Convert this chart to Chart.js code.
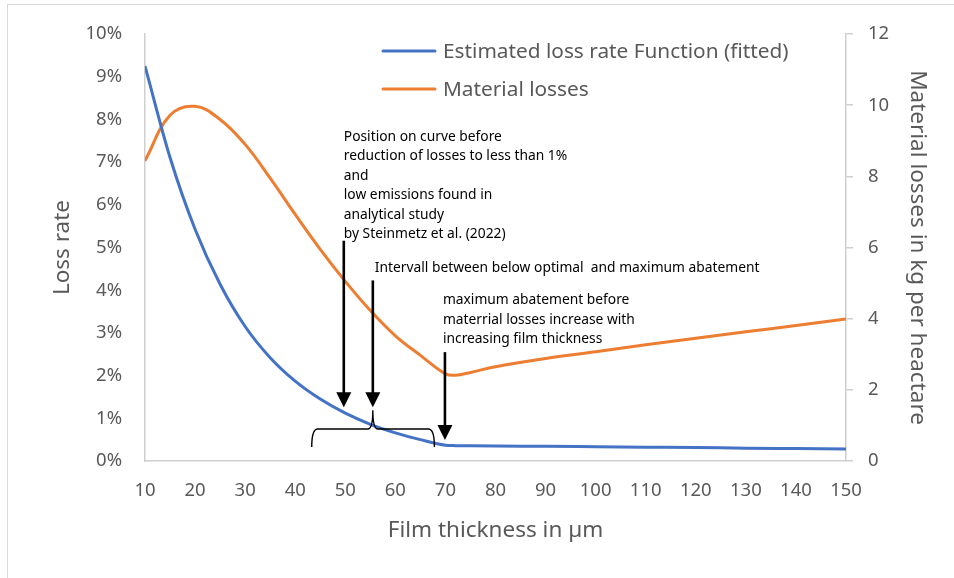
<!DOCTYPE html>
<html><head><meta charset="utf-8">
<script src="https://cdn.jsdelivr.net/npm/chart.js@4.4.0/dist/chart.umd.min.js"></script>
<style>
html,body{margin:0;padding:0;background:#fff;overflow:hidden;}
#wrap{position:relative;width:954px;height:578px;overflow:hidden;}
#frame{position:absolute;left:7px;top:4px;width:1000px;height:1000px;border:1px solid #d9d9d9;box-sizing:border-box;}
canvas{position:absolute;left:0;top:0;}
</style></head>
<body><div id="wrap"><div id="frame"></div><canvas id="c" width="954" height="578"></canvas></div>
<script>
// ---- data ----
const thickness      = [10, 15, 20, 25, 30, 35, 40, 45, 50, 55, 60, 65, 70, 72, 75, 80, 90, 100, 110, 120, 130, 140, 150];
const lossRatePct    = [9.25, 7.11, 5.43, 4.14, 3.15, 2.42, 1.87, 1.45, 1.12, 0.86, 0.66, 0.50, 0.37, 0.36, 0.355, 0.35, 0.345, 0.335, 0.325, 0.315, 0.30, 0.29, 0.28];
const materialLosses = [8.44, 9.72, 9.97, 9.60, 8.90, 7.95, 6.93, 5.95, 5.05, 4.23, 3.52, 2.97, 2.45, 2.41, 2.49, 2.65, 2.88, 3.07, 3.27, 3.45, 3.63, 3.81, 3.99];
const seriesNames    = ['Estimated loss rate Function (fitted)', 'Material losses'];
const xTitle  = 'Film thickness in µm';
const yTitle  = 'Loss rate';
const y2Title = 'Material losses in kg per heactare';

// annotations (anchored in data units: x = film thickness, y = loss rate %)
const noteTexts = [
  ['Position on curve before', 'reduction of losses to less than 1%', 'and', 'low emissions found in', 'analytical study', 'by Steinmetz et al. (2022)'],
  ['Intervall between below optimal  and maximum abatement'],
  ['maximum abatement before', 'materrial losses increase with', 'increasing film thickness']
];
const noteAnchors  = [[49.7, 7.59], [55.9, 4.51], [69.5, 3.76]];
const arrowSpecs   = [[49.7, 5.16, 1.26], [55.5, 4.23, 1.26], [69.9, 2.55, 0.49]];
const braceSpec    = {x1: 43.3, xm: 55.5, x2: 67.8, yBase: 0.75, yEnd: 0.33, yPeak: 1.19};

const BLUE = '#4472C4', ORANGE = '#ED7D31', GREY = '#595959', AXIS = '#cfcfcf';
const FONT = "'Noto Sans', 'Open Sans', sans-serif";
Chart.defaults.font.family = FONT;
Chart.defaults.color = GREY;

const legendPlugin = {
  id: 'customLegend',
  afterDraw(chart) {
    const {ctx, chartArea} = chart;
    ctx.save();
    ctx.font = '20.8px ' + FONT;
    ctx.textBaseline = 'middle';
    chart.data.datasets.forEach((ds, i) => {
      const y = chartArea.top + 17 + i * 38;
      const x0 = chartArea.left + 238;
      ctx.strokeStyle = ds.borderColor;
      ctx.lineWidth = 3;
      ctx.lineCap = 'round';
      ctx.beginPath(); ctx.moveTo(x0, y); ctx.lineTo(x0 + 52, y); ctx.stroke();
      ctx.fillStyle = GREY;
      ctx.fillText(ds.label, x0 + 60, y + 1);
    });
    ctx.restore();
  }
};

const notesPlugin = {
  id: 'notes',
  afterDatasetsDraw(chart) {
    const {ctx} = chart;
    const sx = chart.scales.x, sy = chart.scales.y;
    ctx.save();
    ctx.fillStyle = '#000';
    ctx.strokeStyle = '#000';
    ctx.font = '13.8px ' + FONT;
    ctx.textBaseline = 'middle';
    noteTexts.forEach((lines, i) => {
      const x = sx.getPixelForValue(noteAnchors[i][0]);
      const y = sy.getPixelForValue(noteAnchors[i][1]);
      lines.forEach((t, k) => ctx.fillText(t, x, y + k * 19.4));
    });
    // arrows
    arrowSpecs.forEach(([xv, y1v, y2v]) => {
      const x = sx.getPixelForValue(xv);
      const y1 = sy.getPixelForValue(y1v), y2 = sy.getPixelForValue(y2v);
      ctx.lineWidth = 2.6;
      ctx.beginPath(); ctx.moveTo(x, y1); ctx.lineTo(x, y2 - 12); ctx.stroke();
      ctx.beginPath();
      ctx.moveTo(x - 7.5, y2 - 15); ctx.lineTo(x + 7.5, y2 - 15); ctx.lineTo(x, y2); ctx.closePath();
      ctx.fill();
    });
    // curly brace
    const b = braceSpec;
    const bx1 = sx.getPixelForValue(b.x1), bxm = sx.getPixelForValue(b.xm), bx2 = sx.getPixelForValue(b.x2);
    const yb = sy.getPixelForValue(b.yBase), ye = sy.getPixelForValue(b.yEnd), yp = sy.getPixelForValue(b.yPeak);
    ctx.lineWidth = 1.4;
    ctx.beginPath();
    ctx.moveTo(bx1, ye);
    ctx.quadraticCurveTo(bx1, yb, bx1 + 6, yb);
    ctx.lineTo(bxm - 5, yb);
    ctx.quadraticCurveTo(bxm, yb, bxm, yp);
    ctx.quadraticCurveTo(bxm, yb, bxm + 5, yb);
    ctx.lineTo(bx2 - 6, yb);
    ctx.quadraticCurveTo(bx2, yb, bx2, ye);
    ctx.stroke();
    ctx.restore();
  }
};

new Chart(document.getElementById('c'), {
  type: 'line',
  data: {
    datasets: [
      {label: seriesNames[0], data: thickness.map((x, i) => ({x, y: lossRatePct[i]})), yAxisID: 'y',
       borderColor: BLUE, backgroundColor: BLUE, borderWidth: 3, pointRadius: 0, cubicInterpolationMode: 'monotone', fill: false},
      {label: seriesNames[1], data: thickness.map((x, i) => ({x, y: materialLosses[i]})), yAxisID: 'y2',
       borderColor: ORANGE, backgroundColor: ORANGE, borderWidth: 3, pointRadius: 0, tension: 0.4, fill: false}
    ]
  },
  options: {
    responsive: false, animation: false, devicePixelRatio: 1,
    layout: {padding: {top: 33, left: 0, right: 0, bottom: 0}},
    plugins: {legend: {display: false}, tooltip: {enabled: false}},
    scales: {
      x: {type: 'linear', position: 'bottom', min: 10, max: 150,
          ticks: {stepSize: 10, autoSkip: false, maxRotation: 0, padding: 19, font: {size: 18.5}, color: GREY},
          grid: {display: false, drawTicks: false},
          border: {display: true, color: AXIS, width: 1.5},
          title: {display: true, text: xTitle, font: {size: 22.5}, color: GREY, padding: {top: 0, bottom: 34}},
          afterFit(s) { s.height = 117; }},
      y: {position: 'left', min: 0, max: 10,
          ticks: {stepSize: 1, padding: 23, font: {size: 18.5}, color: GREY, callback: v => v + '%'},
          grid: {display: false, drawTicks: false},
          border: {display: true, color: AXIS, width: 1.5},
          title: {display: true, text: yTitle, font: {size: 22.5}, color: GREY, padding: {top: 49, bottom: 0}},
          afterFit(s) { s.width = 145; }},
      y2: {position: 'right', min: 0, max: 12,
          ticks: {stepSize: 2, padding: 15, font: {size: 18.5}, color: GREY},
          grid: {display: true, drawOnChartArea: false, drawTicks: true, tickLength: 7, color: AXIS, lineWidth: 1.5},
          border: {display: true, color: AXIS, width: 1.5},
          title: {display: true, text: y2Title, font: {size: 22.5}, color: GREY, padding: {top: 23, bottom: 0}},
          afterFit(s) { s.width = 108; }}
    }
  },
  plugins: [legendPlugin, notesPlugin]
});
</script>
</body></html>
